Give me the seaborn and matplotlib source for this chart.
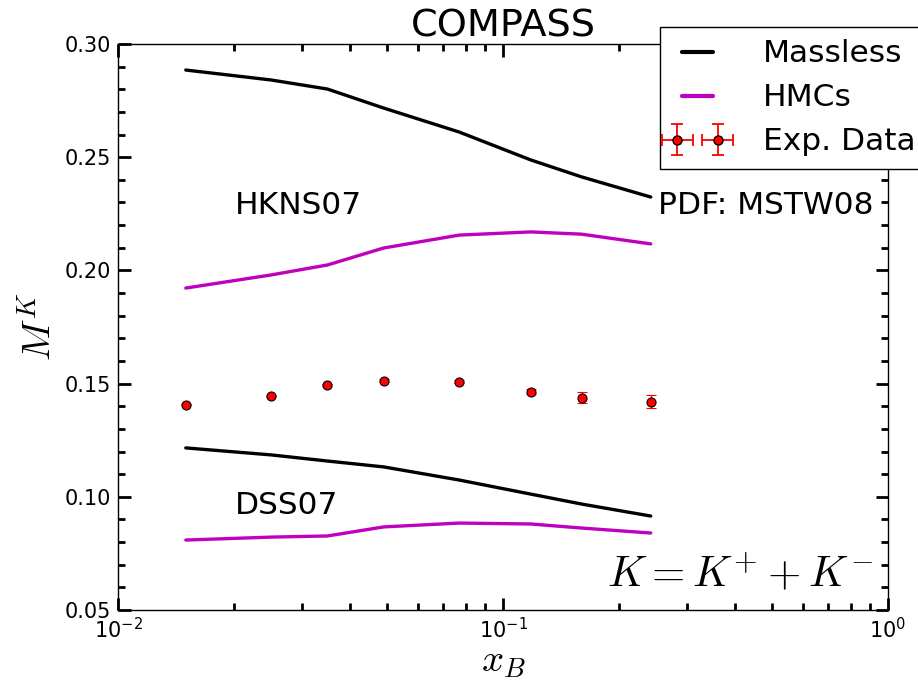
import numpy as np
import pandas as pd
import matplotlib
matplotlib.use("Agg")
import matplotlib.pyplot as plt
import seaborn as sns
from matplotlib.ticker import MultipleLocator, LogLocator, NullFormatter, FormatStrFormatter
from matplotlib.lines import Line2D
from matplotlib.legend_handler import HandlerErrorbar
from matplotlib.container import ErrorbarContainer

# Data
x_B = [0.015, 0.025, 0.035, 0.049, 0.077, 0.118, 0.16, 0.242]
hkns_massless = [0.2885, 0.2841, 0.2801, 0.2717, 0.2611, 0.2488, 0.2413, 0.2324]
hkns_hmc = [0.1922, 0.1980, 0.2024, 0.2099, 0.2156, 0.2170, 0.2160, 0.2117]
dss_massless = [0.1216, 0.1185, 0.1158, 0.1132, 0.1074, 0.1012, 0.0968, 0.0915]
dss_hmc = [0.0809, 0.0822, 0.0827, 0.0867, 0.0884, 0.0880, 0.0862, 0.0840]
exp_vals = [0.1407, 0.1447, 0.1494, 0.1513, 0.1508, 0.1465, 0.1438, 0.1420]
exp_errs = [0.0003, 0.0004, 0.0005, 0.0006, 0.0007, 0.0013, 0.0025, 0.0028]

sns.set_style("ticks")
plt.rcParams['font.family'] = ['DejaVu Sans']
plt.rcParams['mathtext.fontset'] = 'cm'
plt.rcParams['text.color'] = 'black'
plt.rcParams['axes.labelcolor'] = 'black'
plt.rcParams['xtick.color'] = 'black'
plt.rcParams['ytick.color'] = 'black'

fig = plt.figure(figsize=(9.18, 6.83), dpi=100)
ax = fig.add_axes([118/918, 1-610/683, (888-118)/918, (610-44)/683])

df = pd.DataFrame({
    "x": x_B * 4,
    "M": hkns_massless + hkns_hmc + dss_massless + dss_hmc,
    "set": ["HKNS_massless"] * 8 + ["HKNS_hmc"] * 8 + ["DSS_massless"] * 8 + ["DSS_hmc"] * 8,
})
colors = {"HKNS_massless": "black", "HKNS_hmc": "#bf00bf",
          "DSS_massless": "black", "DSS_hmc": "#bf00bf"}
sns.lineplot(data=df, x="x", y="M", hue="set", palette=colors, linewidth=2.4,
             ax=ax, legend=False, sort=False, estimator=None)

ax.errorbar(x_B, exp_vals, yerr=exp_errs, fmt='o', color='red',
            ecolor='red', mfc='red', mec='black', mew=0.8, ms=6.5,
            capsize=3.5, elinewidth=1.0, capthick=1.0, zorder=5)
# legend proxy with both x and y error bars
eb = ax.errorbar([np.nan], [np.nan], yerr=[1], xerr=[1], fmt='o', color='red',
                 ecolor='#ff0000', mfc='red', mec='black', ms=6.5,
                 capsize=4.5, elinewidth=1.3, capthick=1.3)

ax.set_xscale('log')
ax.set_xlim(0.01, 1.0)
ax.set_ylim(0.05, 0.30)
ax.yaxis.set_major_locator(MultipleLocator(0.05))
ax.yaxis.set_minor_locator(MultipleLocator(0.01))
ax.xaxis.set_major_locator(LogLocator(base=10, numticks=10))
ax.xaxis.set_minor_locator(LogLocator(base=10, subs=np.arange(2, 10), numticks=10))
ax.xaxis.set_minor_formatter(NullFormatter())
ax.yaxis.set_major_formatter(FormatStrFormatter('%.2f'))

ax.tick_params(which='both', direction='in', top=True, right=True, color='black')
ax.tick_params(which='major', length=9, width=2, labelsize=15, pad=5)
ax.tick_params(which='minor', length=5, width=2)
for s in ax.spines.values():
    s.set_color('black')
    s.set_linewidth(1.0)

ax.set_xlabel('$x_B$', fontsize=28, labelpad=0)
ax.set_ylabel('$M^K$', fontsize=28, labelpad=4)
ax.set_title('COMPASS', fontsize=27.5, pad=2)

ax.text(0.0201, 0.2285, 'HKNS07', fontsize=22.5, va='center')
ax.text(0.0201, 0.096, 'DSS07', fontsize=22.5, va='center')
ax.text(0.253, 0.2285, 'PDF: MSTW08', fontsize=22.5, va='center')
ax.text(0.981, 0.0635, '$K=K^{+}+K^{-}$', fontsize=31, ha='right', va='center',
        transform=ax.transAxes)

h1 = Line2D([], [], color='black', lw=3)
h2 = Line2D([], [], color='#bf00bf', lw=3)
leg = ax.legend([h1, h2, eb], ['Massless', 'HMCs', 'Exp. Data'],
                loc='upper left', bbox_to_anchor=(660/918, 1-27/683),
                bbox_transform=fig.transFigure, fontsize=22.5, numpoints=2,
                fancybox=False, edgecolor='black', framealpha=1,
                handlelength=1.6, handletextpad=1.3, borderaxespad=0,
                labelspacing=0.48, borderpad=0.4,
                handler_map={ErrorbarContainer: HandlerErrorbar(marker_pad=0.15, xerr_size=0.5)})
leg.get_frame().set_linewidth(1.0)
leg.set_zorder(10)

fig.savefig('out.png', dpi=100)
